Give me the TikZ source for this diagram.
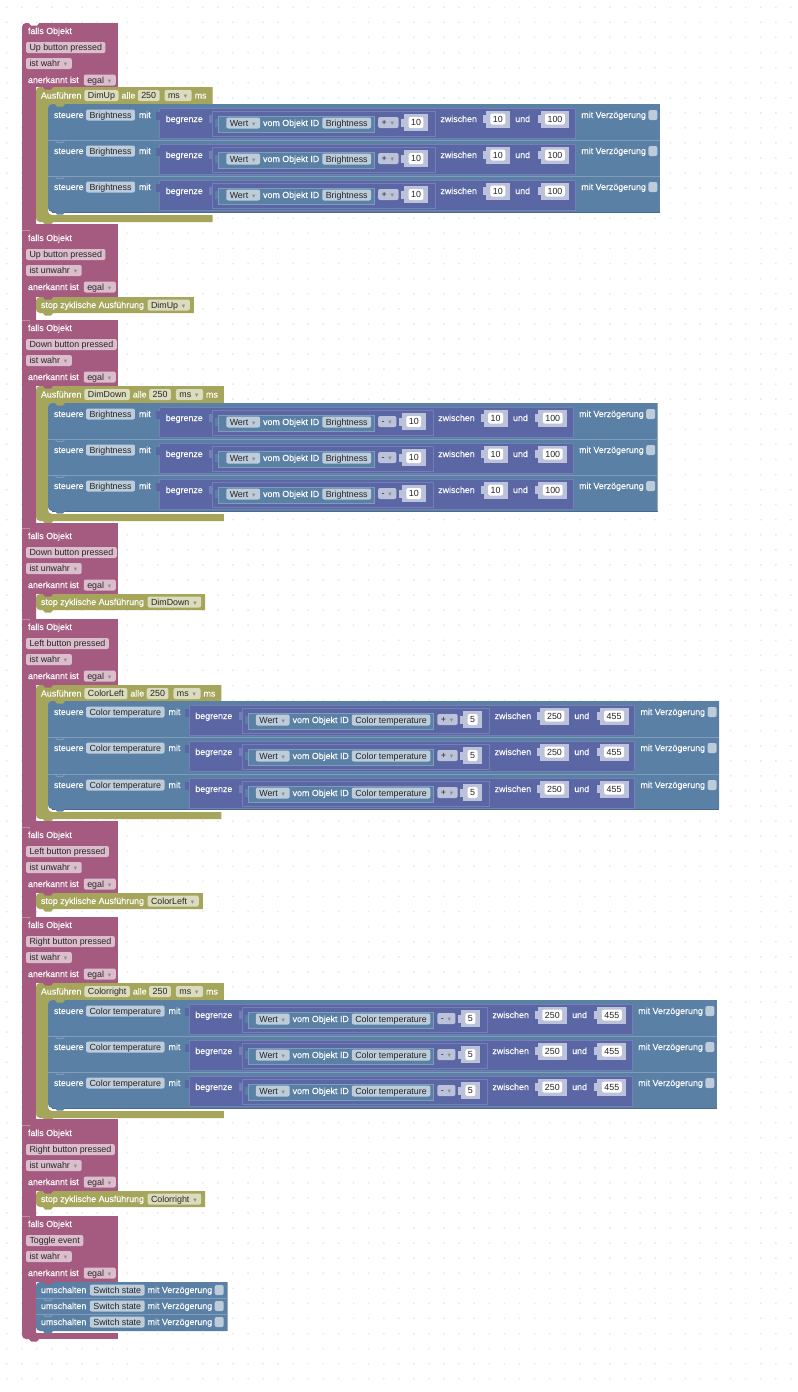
\documentclass[tikz,border=0pt]{standalone}
\usepackage{fontspec}
\setmainfont{Liberation Sans}
\newfontfamily\whitefont{Liberation Sans}[FakeBold=0.15]
\newfontfamily\markfont{DejaVu Sans}
\usetikzlibrary{positioning,calc}

\definecolor{brickpink}{HTML}{A55B80}
\definecolor{brickgreen}{HTML}{A5A55B}
\definecolor{brickblue}{HTML}{5B80A5}
\definecolor{brickpurple}{HTML}{5B67A5}
\definecolor{pinkline}{HTML}{C08CA6}
\definecolor{blueline}{HTML}{7F9DBB}
\definecolor{bluedark}{HTML}{4A6A8A}
\definecolor{purpleline}{HTML}{7480B5}
\definecolor{pinkfield}{HTML}{DBBDCC}
\definecolor{greenfield}{HTML}{DBDBBD}
\definecolor{bluefield}{HTML}{BDCCDB}
\definecolor{purplefield}{HTML}{BDC2DB}

\newdimen\pxu \pxu=0.75pt
\newcommand{\blockfont}{\whitefont\fontsize{6.65}{8}\selectfont}
\newcommand{\pillfont}{\fontsize{6.65}{8}\selectfont}
\newcommand{\dropmark}{\hbox to 6.2pt{\hfil{\markfont\fontsize{5}{5}\selectfont\color{black!45}▾}\hspace{0.8pt}}}

\pgfdeclarelayer{bricks}
\pgfsetlayers{bricks,main}

\tikzset{
    blocktxt/.style={inner sep=0pt, outer sep=0pt, text=white, font=\blockfont, text height=7.6\pxu, text depth=1.6\pxu},
    fieldpill/.style={blocktxt, text=black!85, font=\pillfont, inner xsep=3.5\pxu, minimum height=11\pxu, rounded corners=2\pxu},
    pinkpill/.style={fieldpill, fill=pinkfield},
    greenpill/.style={fieldpill, fill=greenfield},
    bluepill/.style={fieldpill, fill=bluefield},
    purplepill/.style={fieldpill, fill=purplefield},
    numpill/.style={fieldpill, fill=white, inner xsep=2.5\pxu},
    tickbox/.style={fill=bluefield, rounded corners=2\pxu, minimum width=9\pxu, minimum height=10\pxu, inner sep=0pt, outer sep=0pt}
}

% notch on a top edge, tab on a bottom edge
\newcommand{\nub}[3]{\fill[#3] (#1+7,#2) -- (#1+9,#2+2.5) -- (#1+15,#2+2.5) -- (#1+17,#2) -- cycle;}
\newcommand{\nubline}[3]{\draw[#3,line width=0.8\pxu] (#1+7,#2) -- (#1+9,#2+2.5) -- (#1+15,#2+2.5) -- (#1+17,#2);}

% head of a falls block; #5 is where the inner block starts
\newcommand{\fallsblock}[5]{
    \node[blocktxt,anchor=west] (#1head) at (28,#2+8) {falls Objekt};
    \node[pinkpill,anchor=west] (#1name) at (26,#2+24.5) {#3};
    \node[pinkpill,anchor=west] (#1state) at (26,#2+40.5) {#4\dropmark};
    \node[blocktxt,anchor=west] (#1ack) at (28,#2+57) {anerkannt ist};
    \node[pinkpill,right=5\pxu of #1ack] (#1egal) {egal\dropmark};
    \begin{pgfonlayer}{bricks}
        \fill[brickpink] (30,#2) rectangle (118,#5);
    \end{pgfonlayer}
}
\newcommand{\pinkfoot}[2]{
    \begin{pgfonlayer}{bricks}
        \fill[brickpink] (30,#1) rectangle (118,#2);
        \draw[pinkline,line width=0.6\pxu] (22,#2) -- (118,#2);
        \nubline{22}{#2}{pinkline}
    \end{pgfonlayer}
}

% Ausfuehren block: id, top, bottom, name
\newcommand{\cycleblock}[4]{
    \node[blocktxt,anchor=west] (#1run) at (41,#2+8.5) {Ausführen};
    \node[greenpill,right=3\pxu of #1run] (#1name) {#4};
    \node[blocktxt,right=3\pxu of #1name] (#1all) {alle};
    \node[greenpill,right=2.5\pxu of #1all] (#1time) {250};
    \node[greenpill,right=5\pxu of #1time] (#1unit) {ms\dropmark};
    \node[blocktxt,right=3\pxu of #1unit] (#1ms) {ms};
    \coordinate (#1end) at ($(#1ms.east)+(6,0)$);
    \begin{pgfonlayer}{bricks}
        \fill[brickgreen] (#1end |- 0,#2) -- (60,#2) [rounded corners=4\pxu] -- (36,#2) -- (36,#3) -- (60,#3) [sharp corners] -- (#1end |- 0,#3) -- (#1end |- 0,#3-7) -- (60,#3-7) [rounded corners=4\pxu] -- (48,#3-7) -- (48,#2+17) -- (60,#2+17) [sharp corners] -- (#1end |- 0,#2+17) -- cycle;
        \nub{36}{#2}{brickpink}
        \nub{36}{#3}{brickgreen}
    \end{pgfonlayer}
}

% the three steuere rows: id, row tops, bottom, variable, operator, number, low, high
\newcommand{\steuerrows}[8]{
    \foreach \rtop in {#2}{
        \node[blocktxt,anchor=west] (#1s\rtop) at (54,\rtop+11) {steuere};
        \node[bluepill,right=2.5\pxu of #1s\rtop] (#1v\rtop) {#4};
        \node[blocktxt,right=4\pxu of #1v\rtop] (#1m\rtop) {mit};
        \node[blocktxt,right=15\pxu of #1m\rtop,yshift=-4\pxu] (#1b\rtop) {begrenze};
        \node[bluepill,right=23.5\pxu of #1b\rtop,yshift=-4\pxu] (#1w\rtop) {Wert\dropmark};
        \node[blocktxt,right=3\pxu of #1w\rtop] (#1o\rtop) {vom Objekt ID};
        \node[bluepill,right=3\pxu of #1o\rtop] (#1i\rtop) {#4};
        \node[purplepill,right=7\pxu of #1i\rtop,yshift=0.5\pxu] (#1p\rtop) {#5\dropmark};
        \node[numpill,right=10\pxu of #1p\rtop] (#1n\rtop) {#6};
        \node[blocktxt,right=17\pxu of #1n\rtop,yshift=3.5\pxu] (#1z\rtop) {zwischen};
        \node[numpill,right=13.5\pxu of #1z\rtop] (#1lo\rtop) {#7};
        \node[blocktxt,right=10\pxu of #1lo\rtop] (#1u\rtop) {und};
        \node[numpill,right=15\pxu of #1u\rtop] (#1hi\rtop) {#8};
        \node[blocktxt,right=16.5\pxu of #1hi\rtop,yshift=4\pxu] (#1d\rtop) {mit Verzögerung};
        \node[tickbox,right=2.5\pxu of #1d\rtop] (#1c\rtop) {};
        \coordinate (#1right) at ($(#1c\rtop.east)+(2.5,0)$);
    }
    \begin{pgfonlayer}{bricks}
        \foreach \rtop [count=\rno] in {#2}{
            \ifnum\rno=1
                \fill[brickblue] (#1right |- 0,\rtop) -- (60,\rtop) [rounded corners=4\pxu] -- (48,\rtop) -- (48,#3) -- (60,#3) [sharp corners] -- (#1right |- 0,#3) -- cycle;
                \nub{48}{\rtop}{brickgreen}
            \else
                \draw[blueline,line width=0.8\pxu] (48,\rtop) -- (#1right |- 0,\rtop);
                \nubline{48}{\rtop}{blueline}
            \fi
            \fill[brickpurple,draw=purpleline,line width=0.6\pxu] ($(#1m\rtop.east)+(9,-7)$) rectangle ($(#1hi\rtop.east)+(10.5,19)$);
            \fill[brickpurple] ($(#1m\rtop.east)+(5,-3)$) rectangle ($(#1m\rtop.east)+(9,5)$);
            \fill[brickpurple,draw=purpleline,line width=0.6\pxu] ($(#1b\rtop.east)+(10,-8)$) rectangle ($(#1n\rtop.east)+(12,13.5)$);
            \fill[purpleline] ($(#1b\rtop.east)+(6.5,-4)$) rectangle ($(#1b\rtop.east)+(10,4)$);
            \fill[brickblue,draw=blueline,line width=0.4\pxu] ($(#1w\rtop.west)+(-8,-7)$) rectangle ($(#1i\rtop.east)+(3,9)$);
            \fill[brickblue] ($(#1w\rtop.west)+(-11,-4)$) rectangle ($(#1w\rtop.west)+(-8,4)$);
            \foreach \num in {n,lo,hi}{
                \fill[purplefield] ($(#1\num\rtop.west)+(-4.5,-8.5)$) rectangle ($(#1\num\rtop.east)+(4.5,8.5)$);
                \fill[purplefield] ($(#1\num\rtop.west)+(-7.5,-4)$) rectangle ($(#1\num\rtop.west)+(-4,4)$);
            }
        }
        \draw[bluedark,line width=0.8\pxu] (52,#3) -- (#1right |- 0,#3);
        \nub{48}{#3}{brickblue}
    \end{pgfonlayer}
}

\newcommand{\stopblock}[3]{
    \node[blocktxt,anchor=west] (#1stop) at (41,#2+8) {stop zyklische Ausführung};
    \node[greenpill,right=3.5\pxu of #1stop] (#1name) {#3\dropmark};
    \coordinate (#1end) at ($(#1name.east)+(4,0)$);
    \begin{pgfonlayer}{bricks}
        \fill[brickgreen] (#1end |- 0,#2) -- (60,#2) [rounded corners=4\pxu] -- (36,#2) -- (36,#2+16) -- (60,#2+16) [sharp corners] -- (#1end |- 0,#2+16) -- cycle;
        \nub{36}{#2}{brickpink}
        \nub{36}{#2+16}{brickgreen}
    \end{pgfonlayer}
}

\newcommand{\togglerow}[2]{
    \node[blocktxt,anchor=west] (#1t) at (41,#2+8) {umschalten};
    \node[bluepill,right=3.5\pxu of #1t] (#1v) {Switch state};
    \node[blocktxt,right=3\pxu of #1v] (#1d) {mit Verzögerung};
    \node[tickbox,right=2.5\pxu of #1d] (#1c) {};
}

\begin{document}
\begin{tikzpicture}[x=0.75pt,y=-0.75pt]
    \useasboundingbox (0,0) rectangle (797,1392);

    \begin{pgfonlayer}{bricks}
        \fill[white] (0,0) rectangle (797,1392);
        \fill[black!9] \foreach \dotx in {6,21.08,...,797}{\foreach \doty in {6.6,21.67,...,1392}{(\dotx,\doty) rectangle ++(1.5,1.5)}};
        \fill[brickpink,rounded corners=4\pxu] (22,23) rectangle (36,1339);
    \end{pgfonlayer}

    \fallsblock{upa}{23}{Up button pressed}{ist wahr}{87}
    \cycleblock{upc}{87}{222}{DimUp}
    \steuerrows{upr}{104,140,176}{212}{Brightness}{+}{10}{10}{100}
    \pinkfoot{224}{230}

    \fallsblock{upb}{230}{Up button pressed}{ist unwahr}{297}
    \stopblock{ups}{297}{DimUp}
    \pinkfoot{320}{320}

    \fallsblock{dna}{320}{Down button pressed}{ist wahr}{386}
    \cycleblock{dnc}{386}{521}{DimDown}
    \steuerrows{dnr}{403,439,475}{511}{Brightness}{-}{10}{10}{100}
    \pinkfoot{523}{528}

    \fallsblock{dnb}{528}{Down button pressed}{ist unwahr}{594}
    \stopblock{dns}{594}{DimDown}
    \pinkfoot{619}{619}

    \fallsblock{lfa}{619}{Left button pressed}{ist wahr}{685}
    \cycleblock{lfc}{685}{819}{ColorLeft}
    \steuerrows{lfr}{701,737,774}{809}{Color temperature}{+}{5}{250}{455}
    \pinkfoot{821}{827}

    \fallsblock{lfb}{827}{Left button pressed}{ist unwahr}{893}
    \stopblock{lfs}{893}{ColorLeft}
    \pinkfoot{917}{917}

    \fallsblock{rta}{917}{Right button pressed}{ist wahr}{983}
    \cycleblock{rtc}{983}{1118}{Colorright}
    \steuerrows{rtr}{1000,1036,1072}{1108}{Color temperature}{-}{5}{250}{455}
    \pinkfoot{1119}{1125}

    \fallsblock{rtb}{1125}{Right button pressed}{ist unwahr}{1191}
    \stopblock{rts}{1191}{Colorright}
    \pinkfoot{1216}{1216}

    \fallsblock{tga}{1216}{Toggle event}{ist wahr}{1282}
    \togglerow{tg1}{1282}
    \togglerow{tg2}{1298}
    \togglerow{tg3}{1314}
    \coordinate (tgend) at ($(tg3c.east)+(4,0)$);
    \begin{pgfonlayer}{bricks}
        \fill[brickpink] (30,1333) rectangle (118,1339);
        \nub{22}{1339}{brickpink}
        \nub{22}{23}{white}
        \fill[brickblue] (tgend |- 0,1282) -- (60,1282) [rounded corners=4\pxu] -- (36,1282) -- (36,1331) -- (60,1331) [sharp corners] -- (tgend |- 0,1331) -- cycle;
        \nub{36}{1282}{brickpink}
        \draw[blueline,line width=0.8\pxu] (36,1298) -- (tgend |- 0,1298);
        \draw[blueline,line width=0.8\pxu] (36,1314) -- (tgend |- 0,1314);
        \nubline{36}{1298}{blueline}
        \nubline{36}{1314}{blueline}
        \nub{36}{1331}{brickblue}
    \end{pgfonlayer}
\end{tikzpicture}
\end{document}
